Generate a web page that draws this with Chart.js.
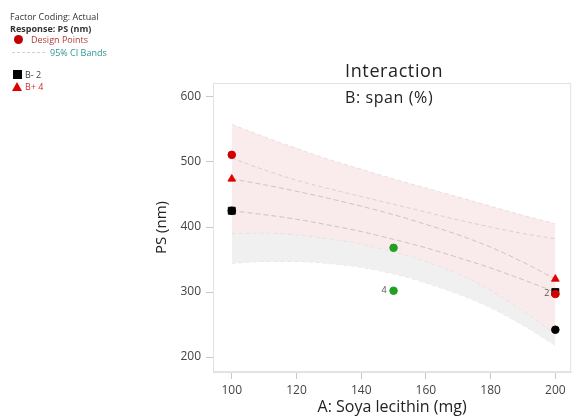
<!DOCTYPE html>
<html>
<head>
<meta charset="utf-8">
<script src="https://cdn.jsdelivr.net/npm/chart.js@4/dist/chart.umd.min.js"></script>
<style>
  body { margin: 0; background: #fff; font-family: 'Open Sans', sans-serif; }
  .wrap { position: relative; width: 577px; height: 418px; }
  canvas { position: absolute; left: 0; top: 0; }
  .key { position: absolute; left: 0; top: 0; font-size: 9px; color: #333; }
  .key div { position: absolute; white-space: nowrap; }
  .dot { width: 9px; height: 9px; border-radius: 50%; background: #c00000; }
  .sq { width: 9px; height: 9px; background: #000; }
  .tri { width: 0; height: 0; border-left: 5px solid transparent; border-right: 5px solid transparent; border-bottom: 9px solid #e00000; }
  .dash { width: 33px; border-top: 1px dashed #d0d0d0; }
</style>
</head>
<body>
<div class="wrap">
  <canvas id="chart" width="577" height="418"></canvas>
  <div class="key">
    <div style="left:10px;top:10px;">Factor Coding: Actual</div>
    <div style="left:10px;top:22px;font-weight:bold;">Response: PS (nm)</div>
    <div class="dot" style="left:14px;top:35px;"></div>
    <div style="left:31px;top:33px;color:#b03a3a;">Design Points</div>
    <div class="dash" style="left:12px;top:52px;"></div>
    <div style="left:50px;top:46px;color:#2f9696;">95% CI Bands</div>
    <div class="sq" style="left:13px;top:70px;"></div>
    <div style="left:25px;top:68px;color:#444;">B- 2</div>
    <div class="tri" style="left:12px;top:82px;"></div>
    <div style="left:25px;top:80px;color:#d03030;">B+ 4</div>
  </div>
</div>
<script>
// A: Soya lecithin (mg)
const lecithin = [100, 110, 120, 130, 140, 150, 160, 170, 180, 190, 200];

// B- (span 2) prediction and 95% CI
const bMinusFit = [425, 419, 412, 403, 393, 381, 368, 353, 337, 319, 300];
const bMinusUpper = [506, 488, 472, 459, 447, 435, 423, 411, 400, 390, 382];
const bMinusLower = [344, 347, 347, 344, 338, 328, 314, 297, 276, 249, 218];

// B+ (span 4) prediction and 95% CI
const bPlusFit = [474, 465, 455, 444, 432, 419, 404, 388, 369, 346, 320];
const bPlusUpper = [558, 539, 521, 504, 489, 474, 460, 446, 432, 418, 405];
const bPlusLower = [390, 391, 388, 382, 374, 362, 347, 328, 303, 271, 235];

// design points
const redPointsA = [100, 200];
const redPointsPS = [511, 297];
const blackPointsA = [100, 200];
const blackPointsPS = [425, 242];
const greenPointsA = [150, 150];
const greenPointsPS = [368, 302];
const greenPointsCount = ['', '4'];

const xTicks = [100, 120, 140, 160, 180, 200];
const yTicks = [200, 300, 400, 500, 600];

function toXY(xs, ys) {
  return xs.map((x, i) => ({ x, y: ys[i] }));
}

function endsOnly(size) {
  return lecithin.map((_, i) => (i === 0 || i === lecithin.length - 1 ? size : 0));
}

const bandLine = {
  showLine: true,
  pointRadius: 0,
  borderWidth: 0.8,
  borderDash: [4, 3],
  cubicInterpolationMode: 'monotone',
};

const chartFrame = {
  id: 'chartFrame',
  afterDraw(chart) {
    const { ctx, chartArea: a, scales } = chart;
    ctx.save();
    ctx.strokeStyle = '#e2e2e2';
    ctx.lineWidth = 1;
    ctx.strokeRect(a.left + 0.5, a.top + 0.5, a.right - a.left - 1, a.bottom - a.top - 1);

    const cx = (a.left + a.right) / 2;
    ctx.fillStyle = '#222';
    ctx.textAlign = 'center';
    ctx.textBaseline = 'middle';
    ctx.letterSpacing = '0.6px';
    ctx.font = '18px "Open Sans"';
    ctx.fillText('Interaction', cx + 2, 72);
    ctx.font = '16px "Open Sans"';
    ctx.fillText('B: span (%)', cx - 3, 98);
    ctx.letterSpacing = '0px';

    // replicate counts next to points
    ctx.font = '9px "Open Sans"';
    ctx.fillStyle = '#555';
    ctx.textAlign = 'right';
    greenPointsA.forEach((a2, i) => {
      if (!greenPointsCount[i]) return;
      ctx.fillText(greenPointsCount[i], scales.x.getPixelForValue(a2) - 7, scales.y.getPixelForValue(greenPointsPS[i]));
    });
    const last = lecithin.length - 1;
    ctx.fillText('2', scales.x.getPixelForValue(lecithin[last]) - 6, scales.y.getPixelForValue(bMinusFit[last]) + 1);
    ctx.restore();
  },
};

new Chart(document.getElementById('chart'), {
  type: 'scatter',
  data: {
    datasets: [
      {
        ...bandLine,
        order: 11,
        data: toXY(lecithin, bMinusUpper),
        borderWidth: 0,
        backgroundColor: 'rgb(240,240,240)',
        fill: '+1',
      },
      {
        ...bandLine,
        order: 11,
        data: toXY(lecithin, bMinusLower),
        borderColor: 'rgba(150,150,150,0.35)',
        fill: false,
      },
      {
        ...bandLine,
        order: 10,
        data: toXY(lecithin, bPlusUpper),
        borderColor: 'rgba(190,160,160,0.35)',
        backgroundColor: 'rgba(249,233,233,0.88)',
        fill: '+1',
      },
      {
        ...bandLine,
        order: 10,
        data: toXY(lecithin, bPlusLower),
        borderColor: 'rgba(190,160,160,0.35)',
        fill: false,
      },
      {
        // B- upper CI edge, drawn above the pink band
        ...bandLine,
        order: 9,
        data: toXY(lecithin, bMinusUpper),
        borderColor: 'rgba(170,140,140,0.4)',
        fill: false,
      },
      {
        order: 5,
        data: toXY(lecithin, bMinusFit),
        showLine: true,
        cubicInterpolationMode: 'monotone',
        borderColor: 'rgba(120,120,120,0.45)',
        borderWidth: 0.8,
        borderDash: [5, 3],
        pointStyle: 'rect',
        pointRadius: endsOnly(5),
        pointBackgroundColor: '#000',
        pointBorderColor: '#000',
      },
      {
        order: 4,
        data: toXY(lecithin, bPlusFit),
        showLine: true,
        cubicInterpolationMode: 'monotone',
        borderColor: 'rgba(160,110,110,0.45)',
        borderWidth: 0.8,
        borderDash: [5, 3],
        pointStyle: 'triangle',
        pointRadius: endsOnly(4.5),
        pointBackgroundColor: '#e00000',
        pointBorderColor: '#e00000',
      },
      {
        order: 2,
        data: toXY(blackPointsA, blackPointsPS),
        pointRadius: 3.8,
        pointBackgroundColor: '#000',
        pointBorderColor: '#000',
      },
      {
        order: 1,
        data: toXY(greenPointsA, greenPointsPS),
        pointRadius: 3.8,
        pointBackgroundColor: '#22a022',
        pointBorderColor: '#22a022',
      },
      {
        order: 0,
        data: toXY(redPointsA, redPointsPS),
        pointRadius: 3.8,
        pointBackgroundColor: '#d00000',
        pointBorderColor: '#d00000',
      },
    ],
  },
  options: {
    responsive: false,
    animation: false,
    devicePixelRatio: 1,
    layout: { padding: { left: 150, top: 83, right: 2, bottom: 0 } },
    plugins: {
      legend: { display: false },
      tooltip: { enabled: false },
    },
    scales: {
      x: {
        type: 'linear',
        min: 94.2,
        max: 204.9,
        afterBuildTicks: (s) => { s.ticks = xTicks.map((v) => ({ value: v })); },
        afterFit: (s) => { s.height = 46; },
        ticks: { color: '#444', font: { family: 'Open Sans', size: 12 }, padding: 4 },
        grid: { drawOnChartArea: false, drawTicks: true, tickLength: 7, color: '#c8c8c8' },
        border: { display: true, color: '#e2e2e2' },
        title: {
          display: true,
          text: 'A: Soya lecithin (mg)',
          color: '#222',
          font: { family: 'Open Sans', size: 16 },
          padding: { top: 2, bottom: 1 },
        },
      },
      y: {
        type: 'linear',
        min: 177,
        max: 621.5,
        afterBuildTicks: (s) => { s.ticks = yTicks.map((v) => ({ value: v })); },
        afterFit: (s) => { s.width = 63; },
        ticks: { color: '#444', font: { family: 'Open Sans', size: 12 }, padding: 5 },
        grid: { drawOnChartArea: false, drawTicks: true, tickLength: 7, color: '#c8c8c8' },
        border: { display: true, color: '#e2e2e2' },
        title: {
          display: true,
          text: 'PS (nm)',
          color: '#222',
          font: { family: 'Open Sans', size: 15 },
          padding: { top: 3, bottom: 4 },
        },
      },
    },
  },
  plugins: [chartFrame],
});
</script>
</body>
</html>
